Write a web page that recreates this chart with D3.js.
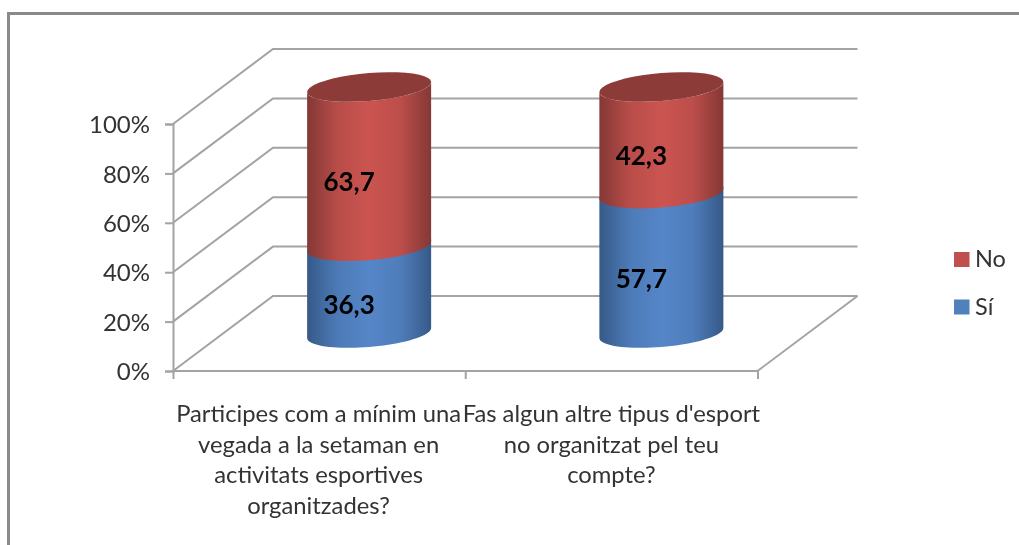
<!DOCTYPE html>
<html>
<head>
<meta charset="utf-8">
<script src="https://cdn.jsdelivr.net/npm/d3@7"></script>
<style>
  html, body { margin: 0; padding: 0; background: #fff; }
  svg { display: block; filter: blur(0.45px); }
  text { font-family: Lato, "Open Sans", sans-serif; fill: #333; }
</style>
</head>
<body>
<svg id="chart" width="1019" height="545"></svg>
<script>
var categories = [
  ["Participes com a mínim una", "vegada a la setaman en", "activitats esportives", "organitzades?"],
  ["Fas algun altre tipus d'esport", "no organitzat pel teu", "compte?"]
];
var keys = ["c0", "c1"];
var siValues = [36.3, 57.7];
var noValues = [63.7, 42.3];
var yTicks = [0, 20, 40, 60, 80, 100];
var legendLabels = ["No", "Sí"];

var svg = d3.select("#chart");
var gridColor = "#a3a3a3";

var x = d3.scaleBand().domain(keys).range([173, 757.5]);
var y = d3.scaleLinear().domain([0, 100]).range([371, 124]);

// depth of the 3d box, front corner to back corner
var depthX = 100;
var depthY = -75;

// cylinders stand half way back in the box
var barY = d3.scaleLinear().domain([0, 100]).range([333, 87]);
var seamDrop = 2.5;
var radius = 62;
var lean = 5;
var ry = 14;

var defs = svg.append("defs");

function sideGradient(id, edge, light) {
  var g = defs.append("linearGradient").attr("id", id);
  g.append("stop").attr("offset", "0%").attr("stop-color", edge);
  g.append("stop").attr("offset", "25%").attr("stop-color", d3.interpolateRgb(edge, light)(0.75));
  g.append("stop").attr("offset", "50%").attr("stop-color", light);
  g.append("stop").attr("offset", "75%").attr("stop-color", d3.interpolateRgb(edge, light)(0.8));
  g.append("stop").attr("offset", "100%").attr("stop-color", edge);
}
sideGradient("blueSide", "#365a88", "#5586c8");
sideGradient("redSide", "#843835", "#cb5450");

// frame, open on the right and at the bottom
svg.append("path")
  .attr("d", "M8.5,545V13.5H1019")
  .attr("fill", "none")
  .attr("stroke", "#8a8a8a")
  .attr("stroke-width", 3);

// walls
var grid = svg.append("g").attr("fill", "none").attr("stroke", gridColor).attr("stroke-width", 2);
grid.selectAll("path.wall")
  .data(yTicks)
  .enter().append("path")
  .attr("class", "wall")
  .attr("d", function (d) {
    var x0 = x.range()[0];
    var x1 = x.range()[1];
    return "M" + x0 + "," + y(d) + "L" + (x0 + depthX) + "," + (y(d) + depthY) + "H" + (x1 + depthX);
  });
grid.append("path")
  .attr("d", "M" + x.range()[0] + "," + y(0) + "H" + x.range()[1] + "L" + (x.range()[1] + depthX) + "," + (y(0) + depthY));

// axes
var yAxis = d3.axisLeft(y)
  .tickValues(yTicks)
  .tickSize(8)
  .tickFormat(function (d) { return d + "%"; });
var yG = svg.append("g").attr("transform", "translate(" + x.range()[0] + ",0)").call(yAxis);
yG.select(".domain").attr("stroke", gridColor).attr("stroke-width", 2);
yG.selectAll("line").attr("stroke", gridColor).attr("stroke-width", 2);
yG.selectAll("text")
  .attr("x", -23)
  .attr("y", 1)
  .attr("font-size", 24)
  .style("font-family", "Lato");

var xTickScale = d3.scaleLinear().domain([0, 2]).range(x.range());
var xAxis = d3.axisBottom(xTickScale).tickValues([0, 1, 2]).tickSize(8).tickFormat("");
var xG = svg.append("g").attr("transform", "translate(0," + y(0) + ")").call(xAxis);
xG.select(".domain").remove();
xG.selectAll("line").attr("stroke", gridColor).attr("stroke-width", 2);

// category labels
var lineHeight = 30.7;
var labels = svg.append("g").selectAll("text")
  .data(categories)
  .enter().append("text")
  .attr("text-anchor", "middle")
  .attr("font-size", 23.8);
labels.selectAll("tspan")
  .data(function (d, i) { return d.map(function (t) { return { t: t, i: i }; }); })
  .enter().append("tspan")
  .attr("x", function (d) { return x(keys[d.i]) + x.bandwidth() / 2 + (d.i === 0 ? -0.5 : 0); })
  .attr("y", function (d, j) { return 422 + j * lineHeight; })
  .text(function (d) { return d.t; });

// point on a leaning ellipse, t = 0 at the right end
function rim(cx, cy, t) {
  return [cx + radius * Math.cos(t), cy - lean * Math.cos(t) + ry * Math.sin(t)];
}

function arcPoints(cx, cy, from, to) {
  return d3.range(41).map(function (i) {
    return rim(cx, cy, from + (to - from) * i / 40);
  });
}

var line = d3.line();

// side of a cylinder piece: front arc at the bottom, front arc at the top
function sidePath(cx, yBottom, yTop) {
  var low = arcPoints(cx, yBottom, 0, Math.PI);
  var high = arcPoints(cx, yTop, Math.PI, 0);
  return line(low.concat(high)) + "Z";
}

function ellipsePath(cx, cy) {
  return line(arcPoints(cx, cy, 0, 2 * Math.PI)) + "Z";
}

var bars = svg.append("g").selectAll("g")
  .data(keys)
  .enter().append("g");

function centerX(k) { return x(k) + x.bandwidth() / 2 + depthX / 2; }

bars.append("path")
  .attr("fill", "url(#blueSide)")
  .attr("d", function (k, i) { return sidePath(centerX(k), barY(0), barY(siValues[i])); });

bars.append("path")
  .attr("fill", "url(#redSide)")
  .attr("d", function (k, i) { return sidePath(centerX(k), barY(siValues[i]) + seamDrop, barY(siValues[i] + noValues[i])); });

bars.append("path")
  .attr("fill", "#8c3b38")
  .attr("d", function (k, i) { return ellipsePath(centerX(k), barY(siValues[i] + noValues[i])); });

// value labels sit a little below the middle of each piece
function valueLabel(values, base) {
  bars.append("text")
    .attr("x", function (k) { return centerX(k) - 20; })
    .attr("y", function (k, i) { return barY(base(i) + values[i] / 2) + 26; })
    .attr("text-anchor", "middle")
    .attr("font-size", 26)
    .attr("font-weight", 700)
    .style("fill", "#000")
    .text(function (k, i) { return String(values[i]).replace(".", ","); });
}
valueLabel(siValues, function () { return 0; });
valueLabel(noValues, function (i) { return siValues[i]; });

// legend
var legend = svg.append("g").selectAll("g")
  .data(legendLabels)
  .enter().append("g")
  .attr("transform", function (d, i) { return "translate(954," + (252 + i * 47.5) + ")"; });
legend.append("rect")
  .attr("width", 15.5)
  .attr("height", 15)
  .attr("fill", function (d, i) { return i === 0 ? "#c0504d" : "#4f81bd"; });
legend.append("text")
  .attr("x", 21)
  .attr("y", 15)
  .attr("font-size", 23.5)
  .text(function (d) { return d; });
</script>
</body>
</html>
